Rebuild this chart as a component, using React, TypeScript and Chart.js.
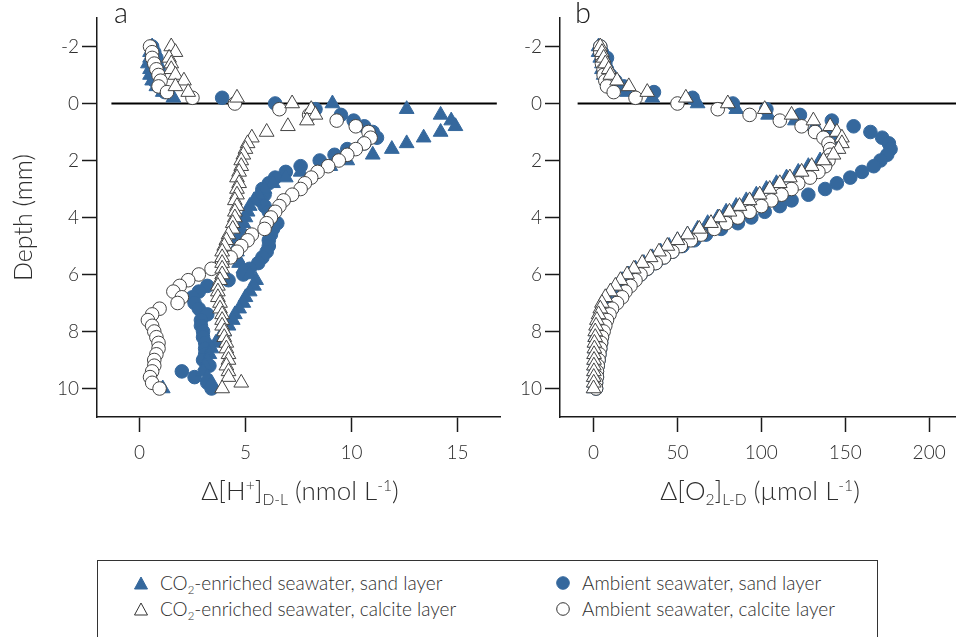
import React, { useEffect, useRef } from 'react';
import { Chart, registerables } from 'chart.js';

Chart.register(...registerables);

// ---------- data ----------
const depthTicks = [-2, 0, 2, 4, 6, 8, 10];
const hTicks = [0, 5, 10, 15];
const o2Ticks = [0, 50, 100, 150, 200];

// measurement depths (mm)
const depth = [
  -2.0, -1.8, -1.6, -1.4, -1.2, -1.0, -0.8, -0.6, -0.4, -0.2,
  0.0, 0.2, 0.4, 0.6, 0.8, 1.0, 1.2, 1.4, 1.6, 1.8,
  2.0, 2.2, 2.4, 2.6, 2.8, 3.0, 3.2, 3.4, 3.6, 3.8,
  4.0, 4.2, 4.4, 4.6, 4.8, 5.0, 5.2, 5.4, 5.6, 5.8,
  6.0, 6.2, 6.4, 6.6, 6.8, 7.0, 7.2, 7.4, 7.6, 7.8,
  8.0, 8.2, 8.4, 8.6, 8.8, 9.0, 9.2, 9.4, 9.6, 9.8, 10.0,
];

// Panel a: Δ[H+] D-L (nmol L-1)
const hCo2Sand = [
  0.6, 0.5, 0.5, 0.4, 0.5, 0.5, 0.6, 0.8, 1.1, 1.6,
  9.1, 12.6, 14.2, 14.7, 14.9, 14.2, 13.4, 12.6, 11.9, 11.0,
  9.8, 9.0, 7.6, 6.9, 6.3, 5.9, 5.6, 5.4, 5.2, 5.1,
  5.0, 4.9, 4.8, 4.7, 4.6, 4.6, 4.6, 4.6, 4.7, 4.9,
  5.2, 5.5, 5.4, 5.2, 5.0, 4.9, 4.7, 4.5, 4.4, 4.2,
  4.0, 3.8, 3.6, 3.4, 3.3, 3.2, 3.1, 3.0, 3.2, 3.4, 1.1,
];
const hAmbSand = [
  0.6, 0.7, 0.8, 0.8, 0.9, 0.8, 0.7, 0.9, 1.2, 3.9,
  6.4, 8.3, 9.5, 10.1, 10.6, 11.0, 11.2, 10.6, 9.8, 9.2,
  8.5, 7.6, 6.9, 6.4, 6.1, 5.8, 5.9, 5.7, 5.9, 6.1,
  6.3, 6.5, 6.3, 6.2, 6.1, 6.1, 6.0, 5.8, 5.6, 5.2,
  4.9, 4.2, 3.2, 2.8, 2.5, 2.6, 2.8, 3.2, 2.9, 2.9,
  3.0, 3.0, 3.1, 3.1, 3.1, 3.0, 3.3, 2.0, 2.6, 3.2, 3.4,
];
const hCo2Calc = [
  1.5, 1.7, 1.4, 1.5, 1.5, 1.7, 2.1, 1.7, 2.3, 4.6,
  7.2, 8.1, 8.3, 7.9, 7.0, 6.0, 5.3, 5.1, 5.0, 4.9,
  4.8, 4.8, 4.7, 4.6, 4.7, 4.6, 4.6, 4.5, 4.6, 4.5,
  4.5, 4.4, 4.4, 4.2, 4.1, 4.0, 3.9, 3.9, 3.9, 3.9,
  3.9, 3.8, 3.7, 3.7, 3.7, 3.8, 3.8, 3.9, 3.9, 3.9,
  4.0, 4.0, 4.1, 4.1, 4.2, 4.2, 4.1, 4.2, 4.2, 4.8, 3.9,
];
const hAmbCalc = [
  0.5, 0.6, 0.6, 0.7, 0.8, 0.9, 1.0, 0.9, 1.3, 2.5,
  4.5, 6.6, 8.0, 9.3, 10.2, 10.8, 10.9, 10.6, 10.2, 9.8,
  9.4, 8.9, 8.4, 8.1, 7.8, 7.6, 7.2, 6.8, 6.6, 6.4,
  6.2, 6.0, 5.9, 5.3, 5.1, 4.8, 4.6, 4.3, 3.9, 3.4,
  2.8, 2.3, 1.9, 1.6, 2.0, 1.8, 0.95, 0.6, 0.4, 0.6,
  0.7, 0.8, 0.9, 0.9, 0.8, 0.7, 0.7, 0.6, 0.5, 0.6, 0.95,
];

// Panel b: Δ[O2] L-D (µmol L-1)
const oCo2Sand = [
  3, 3, 4, 5, 5, 6, 8, 12, 20, 35,
  62, 85, 104, 120, 132, 140, 144, 145, 144, 140,
  135, 128, 122, 115, 109, 103, 97, 91, 85, 79,
  74, 68, 62, 56, 50, 45, 40, 35, 30, 25,
  21, 17, 14, 11, 8, 6, 5, 4, 3, 2,
  1.5, 1, 1, 0.8, 0.7, 0.6, 0.5, 0.5, 0.4, 0.4, 0.3,
];
const oAmbSand = [
  4, 5, 8, 7, 8, 10, 13, 18, 36, 59,
  83, 103, 123, 142, 155, 165, 172, 176, 177, 175,
  171, 167, 160, 153, 145, 138, 128, 118, 111, 102,
  94, 86, 76, 67, 60, 53, 47, 42, 37, 32,
  28, 24, 21, 18, 16, 13, 11, 9, 7.5, 6.5,
  5.5, 5, 4.5, 4, 3.5, 3, 2.5, 2, 2, 1.5, 1.5,
];
const oCo2Calc = [
  4, 5, 6, 7, 9, 10, 14, 21, 32, 55,
  80, 102, 118, 131, 141, 145, 148, 148, 146, 143,
  137, 130, 124, 117, 111, 105, 99, 93, 87, 81,
  75, 70, 63, 56, 50, 44, 39, 34, 29, 24,
  20, 16, 13, 10, 7, 5, 4, 3, 2, 1.5,
  1, 1, 0.5, 0.5, 0.3, 0.3, 0.2, 0.2, 0.1, 0.1, 0,
];
const oAmbCalc = [
  4, 4, 5, 5, 6, 6, 7, 8, 12, 25,
  50, 74, 93, 111, 124, 132, 137, 140, 141, 141,
  140, 138, 134, 129, 122, 118, 112, 106, 100, 93,
  86, 79, 72, 64, 58, 52, 47, 42, 37, 32,
  28, 25, 22, 19, 17, 14, 11, 9.5, 8, 7,
  6, 5, 4.5, 4, 3.5, 3, 2.5, 2, 2, 1.5, 1.5,
];

// sediment surface line (depth 0) extents in data units
const surfaceH = [-1.32, 16.85];
const surfaceO2 = [-9.5, 216];

// ---------- style ----------
const BLUE = '#35689d';
const AXIS = '#1a1a1a';
const TXT = '#2e2e2e';
const FONT = "Lato, 'Open Sans', 'DejaVu Sans', sans-serif";
const WEIGHT = '300';

const pts = (xs: number[]) => xs.map((x, i) => ({ x, y: depth[i] }));

function datasets(co2Sand: number[], ambSand: number[], co2Calc: number[], ambCalc: number[], line: number[]) {
  return [
    {
      label: 'CO2-enriched seawater, calcite layer',
      data: pts(co2Calc),
      pointStyle: 'triangle',
      pointRadius: 8.5,
      backgroundColor: '#ffffff',
      borderColor: '#444444',
      borderWidth: 1,
      order: 0,
    },
    {
      label: 'Ambient seawater, calcite layer',
      data: pts(ambCalc),
      pointStyle: 'circle',
      pointRadius: 6.8,
      backgroundColor: '#ffffff',
      borderColor: '#444444',
      borderWidth: 1,
      order: 1,
    },
    {
      label: 'CO2-enriched seawater, sand layer',
      data: pts(co2Sand),
      pointStyle: 'triangle',
      pointRadius: 8.5,
      backgroundColor: BLUE,
      borderColor: BLUE,
      borderWidth: 1,
      order: 2,
    },
    {
      label: 'Ambient seawater, sand layer',
      data: pts(ambSand),
      pointStyle: 'circle',
      pointRadius: 6.8,
      backgroundColor: BLUE,
      borderColor: BLUE,
      borderWidth: 1,
      order: 3,
    },
    {
      type: 'line',
      label: 'surface',
      data: line.map((x) => ({ x, y: 0 })),
      borderColor: '#000000',
      borderWidth: 2,
      pointRadius: 0,
      showLine: true,
      order: 10,
    },
  ];
}

function panelConfig(p: {
  ds: any[];
  xMin: number;
  xMax: number;
  xTicks: number[];
  yWidth: number;
  padRight: number;
  yTitle: boolean;
}) {
  return {
    type: 'scatter',
    data: { datasets: p.ds },
    options: {
      responsive: false,
      animation: false,
      devicePixelRatio: 1,
      events: [],
      layout: { autoPadding: false, padding: { top: 18, right: p.padRight, left: 0, bottom: 0 } },
      plugins: { legend: { display: false }, tooltip: { enabled: false } },
      scales: {
        x: {
          type: 'linear',
          min: p.xMin,
          max: p.xMax,
          afterBuildTicks: (ax: any) => {
            ax.ticks = p.xTicks.map((v) => ({ value: v }));
          },
          afterFit: (ax: any) => {
            ax.height = 113;
            ax.paddingLeft = 0;
            ax.paddingRight = 0;
          },
          grid: { drawOnChartArea: false, tickLength: 15, tickWidth: 1.5, tickColor: AXIS },
          border: { color: AXIS, width: 1.5 },
          ticks: { padding: 9, color: TXT, font: { family: FONT, size: 19, weight: WEIGHT }, maxRotation: 0 },
        },
        y: {
          type: 'linear',
          min: -3,
          max: 11,
          reverse: true,
          afterBuildTicks: (ax: any) => {
            ax.ticks = depthTicks.map((v) => ({ value: v }));
          },
          afterFit: (ax: any) => {
            ax.width = p.yWidth;
            ax.paddingTop = 0;
            ax.paddingBottom = 0;
          },
          grid: { drawOnChartArea: false, tickLength: 15, tickWidth: 1.5, tickColor: AXIS },
          border: { color: AXIS, width: 1.5 },
          ticks: { padding: 3, color: TXT, font: { family: FONT, size: 19, weight: WEIGHT } },
          title: {
            display: p.yTitle,
            text: 'Depth (mm)',
            color: TXT,
            font: { family: FONT, size: 25, weight: WEIGHT },
            padding: { top: 9, bottom: 0 },
          },
        },
      },
    },
  } as any;
}

const abs = (s: React.CSSProperties): React.CSSProperties => ({ position: 'absolute', ...s });

function TriangleIcon({ fill }: { fill: string }) {
  return (
    <svg width="16" height="16" viewBox="0 0 16 16" style={{ display: 'block' }}>
      <polygon points="8,2 14.5,14 1.5,14" fill={fill} stroke={fill === '#ffffff' ? '#333' : fill} strokeWidth="1" />
    </svg>
  );
}
function CircleIcon({ fill }: { fill: string }) {
  return (
    <svg width="16" height="16" viewBox="0 0 16 16" style={{ display: 'block' }}>
      <circle cx="8" cy="8" r="6.3" fill={fill} stroke={fill === '#ffffff' ? '#333' : fill} strokeWidth="1" />
    </svg>
  );
}

const subStyle: React.CSSProperties = { fontSize: '0.6em', verticalAlign: '-0.35em', lineHeight: 0 };
const supStyle: React.CSSProperties = { fontSize: '0.6em', verticalAlign: '0.6em', lineHeight: 0 };

export default function App() {
  const refA = useRef<HTMLCanvasElement>(null);
  const refB = useRef<HTMLCanvasElement>(null);

  useEffect(() => {
    const a = new Chart(
      refA.current as HTMLCanvasElement,
      panelConfig({
        ds: datasets(hCo2Sand, hAmbSand, hCo2Calc, hAmbCalc, surfaceH),
        xMin: -2,
        xMax: 17,
        xTicks: hTicks,
        yWidth: 97,
        padRight: 10,
        yTitle: true,
      })
    );
    const b = new Chart(
      refB.current as HTMLCanvasElement,
      panelConfig({
        ds: datasets(oCo2Sand, oAmbSand, oCo2Calc, oAmbCalc, surfaceO2),
        xMin: -20,
        xMax: 216,
        xTicks: o2Ticks,
        yWidth: 40,
        padRight: 0,
        yTitle: false,
      })
    );
    return () => {
      a.destroy();
      b.destroy();
    };
  }, []);

  const legendItem = (icon: React.ReactNode, label: React.ReactNode, left: number, top: number) => (
    <div style={abs({ left, top, display: 'flex', alignItems: 'center', whiteSpace: 'nowrap' })}>
      <div style={{ width: 16, marginRight: 11 }}>{icon}</div>
      <span>{label}</span>
    </div>
  );

  return (
    <div
      style={abs({
        left: 0,
        top: 0,
        width: 956,
        height: 637,
        overflow: 'hidden',
        background: '#ffffff',
        fontFamily: FONT,
        fontWeight: 300,
        color: TXT,
      })}
    >
      <canvas ref={refA} width={510} height={530} style={abs({ left: 0, top: 0, width: 510, height: 530 })} />
      <canvas ref={refB} width={436} height={530} style={abs({ left: 520, top: 0, width: 436, height: 530 })} />

      <div style={abs({ left: 114, top: -6, fontSize: 29, color: '#222' })}>a</div>
      <div style={abs({ left: 575, top: -6, fontSize: 29, color: '#222' })}>b</div>

      <div style={abs({ left: 150, width: 300, top: 474, textAlign: 'center', fontSize: 26, whiteSpace: 'nowrap' })}>
        Δ[H<span style={supStyle}>+</span>]<span style={subStyle}>D-L</span> (nmol L<span style={supStyle}>-1</span>)
      </div>
      <div style={abs({ left: 610, width: 300, top: 474, textAlign: 'center', fontSize: 26, whiteSpace: 'nowrap' })}>
        Δ[O<span style={subStyle}>2</span>]<span style={subStyle}>L-D</span> (µmol L<span style={supStyle}>-1</span>)
      </div>

      <div style={abs({ left: 97, top: 560, width: 779, height: 100, border: '1px solid #333', fontSize: 19 })}>
        {legendItem(<TriangleIcon fill={BLUE} />, <>CO<span style={subStyle}>2</span>-enriched seawater, sand layer</>, 35, 10)}
        {legendItem(<TriangleIcon fill="#ffffff" />, <>CO<span style={subStyle}>2</span>-enriched seawater, calcite layer</>, 35, 36)}
        {legendItem(<CircleIcon fill={BLUE} />, <>Ambient seawater, sand layer</>, 457, 10)}
        {legendItem(<CircleIcon fill="#ffffff" />, <>Ambient seawater, calcite layer</>, 457, 36)}
      </div>
    </div>
  );
}
